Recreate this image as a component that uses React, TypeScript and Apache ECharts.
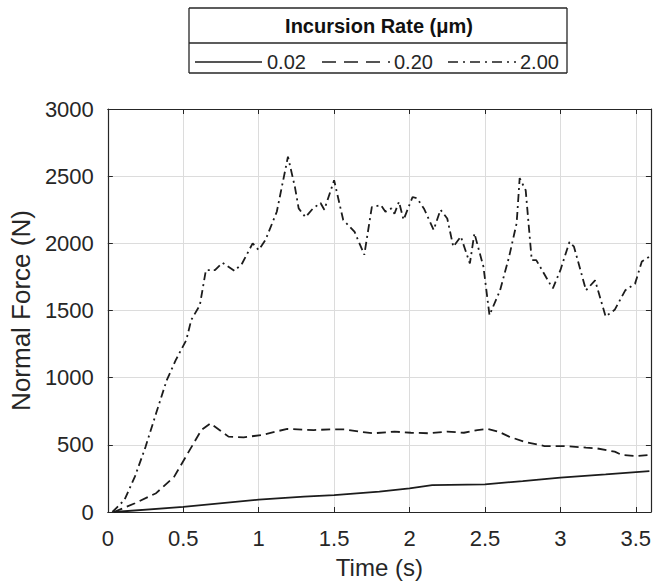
import React, { useEffect, useRef } from "react";
import * as echarts from "echarts";

// ---- data ----
const xTicks = [0, 0.5, 1, 1.5, 2, 2.5, 3, 3.5];
const yTicks = [0, 500, 1000, 1500, 2000, 2500, 3000];

const legendTitle = "Incursion Rate (μm)";
const seriesNames = ["0.02", "0.20", "2.00"];

const time002 = [0.04, 0.5, 1.0, 1.3, 1.5, 1.8, 2.0, 2.15, 2.5, 2.75, 3.0, 3.3, 3.59];
const force002 = [0, 38, 92, 115, 126, 152, 176, 200, 206, 230, 256, 280, 305];

const time020 = [0.04, 0.18, 0.32, 0.44, 0.53, 0.62, 0.68, 0.74, 0.8, 0.9, 1.02, 1.11, 1.19, 1.365, 1.48, 1.57, 1.67, 1.76, 1.9, 2.01, 2.13, 2.25, 2.36, 2.45, 2.52, 2.59, 2.66, 2.76, 2.895, 3.03, 3.17, 3.24, 3.36, 3.41, 3.5, 3.59];
const force020 = [0, 65, 140, 263, 437, 610, 660, 610, 561, 556, 573, 598, 618, 610, 615, 615, 598, 586, 598, 590, 586, 598, 590, 610, 618, 598, 561, 523, 491, 491, 479, 474, 449, 424, 417, 424];

const time200 = [0.03, 0.11, 0.18, 0.25, 0.32, 0.39, 0.45, 0.52, 0.553, 0.61, 0.65, 0.71, 0.76, 0.84, 0.89, 0.96, 1.0, 1.045, 1.12, 1.194, 1.24, 1.265, 1.31, 1.36, 1.41, 1.435, 1.5, 1.56, 1.636, 1.7, 1.75, 1.81, 1.84, 1.88, 1.9, 1.93, 1.96, 2.02, 2.05, 2.095, 2.16, 2.205, 2.25, 2.29, 2.34, 2.4, 2.43, 2.49, 2.53, 2.6, 2.66, 2.71, 2.73, 2.77, 2.81, 2.84, 2.93, 2.95, 3.0, 3.06, 3.09, 3.17, 3.23, 3.3, 3.36, 3.43, 3.495, 3.54, 3.59];
const force200 = [0, 90, 265, 485, 735, 980, 1130, 1280, 1430, 1540, 1800, 1800, 1855, 1795, 1850, 2000, 1950, 2025, 2235, 2645, 2420, 2260, 2195, 2260, 2300, 2250, 2470, 2175, 2085, 1915, 2270, 2285, 2235, 2260, 2220, 2310, 2175, 2345, 2335, 2260, 2100, 2250, 2185, 1975, 2050, 1850, 2075, 1825, 1465, 1650, 1900, 2150, 2485, 2395, 1875, 1875, 1700, 1665, 1800, 2010, 1975, 1650, 1725, 1455, 1505, 1650, 1700, 1865, 1900];

const zip = (t: number[], f: number[]) => t.map((x, i) => [x, f[i]]);

const FONT = "'Liberation Sans', Arial, Helvetica, sans-serif";
const AX = "#262626";
const LINE = "#1c1c1c";

export default function App() {
  const ref = useRef<HTMLDivElement>(null);
  useEffect(() => {
    if (!ref.current) return;
    const chart = echarts.init(ref.current, null, { renderer: "svg" });

    const xCommon = {
      type: "value" as const,
      min: 0,
      max: 3.6,
      interval: 0.5,
      axisLine: { show: true, onZero: false, lineStyle: { color: AX, width: 1.2 } },
      axisTick: { show: true, inside: true, length: 5, lineStyle: { color: AX } },
      splitLine: { show: false },
    };
    const yCommon = {
      type: "value" as const,
      min: 0,
      max: 3000,
      interval: 500,
      axisLine: { show: true, onZero: false, lineStyle: { color: AX, width: 1.2 } },
      axisTick: { show: true, inside: true, length: 5, lineStyle: { color: AX } },
      splitLine: { show: false },
    };

    const legendLines = [
      { x1: 195, x2: 262, dash: null as number[] | null, tx: 267 },
      { x1: 322, x2: 390, dash: [14, 8], tx: 394 },
      { x1: 448, x2: 516, dash: [10, 5, 2, 5], tx: 520 },
    ];

    const L = 189, R = 567, T = 8, B = 73, S = 43;
    const border = (x1: number, y1: number, x2: number, y2: number) => ({
      type: "line",
      shape: { x1, y1, x2, y2 },
      style: { stroke: AX, lineWidth: 1.3 },
      z: 101,
    });

    const graphic: any[] = [
      {
        type: "rect",
        shape: { x: L, y: T, width: R - L, height: B - T },
        style: { fill: "#fff", lineWidth: 0 },
        z: 100,
      },
      border(L, T, R, T),
      border(L, B, R, B),
      border(L, T, L, B),
      border(R, T, R, B),
      border(L, S, R, S),
      {
        type: "text",
        x: 379,
        y: 26,
        style: {
          text: legendTitle,
          font: `bold 20px ${FONT}`,
          fill: "#111",
          textAlign: "center",
          textVerticalAlign: "middle",
        },
        z: 101,
      },
    ];
    legendLines.forEach((l, i) => {
      graphic.push({
        type: "line",
        shape: { x1: l.x1, y1: 62, x2: l.x2, y2: 62 },
        style: { stroke: LINE, lineWidth: 1.6, lineDash: l.dash || undefined },
        z: 101,
      });
      graphic.push({
        type: "text",
        x: l.tx,
        y: 62,
        style: {
          text: seriesNames[i],
          font: `20px ${FONT}`,
          fill: AX,
          textAlign: "left",
          textVerticalAlign: "middle",
        },
        z: 101,
      });
    });

    const lineSeries = (name: string, data: number[][], dash: any) => ({
      name,
      type: "line" as const,
      data,
      showSymbol: false,
      symbol: "none",
      lineStyle: { color: LINE, width: 1.8, type: dash },
      xAxisIndex: 0,
      yAxisIndex: 0,
      z: 5,
    });

    chart.setOption({
      animation: false,
      backgroundColor: "#fff",
      textStyle: { fontFamily: FONT },
      grid: { left: 104, right: 2, top: 109, bottom: 73, containLabel: false },
      xAxis: [
        {
          ...xCommon,
          position: "bottom",
          name: "Time (s)",
          nameLocation: "middle",
          nameGap: 43,
          nameTextStyle: { fontSize: 24, color: AX, fontFamily: FONT },
          axisLabel: {
            show: true,
            fontSize: 22,
            color: AX,
            fontFamily: FONT,
            margin: 15,
            showMaxLabel: false,
            formatter: (v: number) => (xTicks.some((t) => Math.abs(t - v) < 1e-6) ? String(v) : ""),
          },
          splitLine: { show: true, lineStyle: { color: "#dcdcdc", width: 1 } },
        },
        {
          ...xCommon,
          position: "top",
          axisLabel: { show: false },
        },
      ],
      yAxis: [
        {
          ...yCommon,
          position: "left",
          name: "Normal Force (N)",
          nameLocation: "middle",
          nameGap: 70,
          nameRotate: 90,
          nameTextStyle: { fontSize: 26, color: AX, fontFamily: FONT },
          axisLabel: {
            show: true,
            fontSize: 22,
            color: AX,
            fontFamily: FONT,
            margin: 14,
            formatter: (v: number) => (yTicks.includes(v) ? String(v) : ""),
          },
          splitLine: { show: true, lineStyle: { color: "#dcdcdc", width: 1 } },
        },
        {
          ...yCommon,
          position: "right",
          axisLabel: { show: false },
        },
      ],
      series: [
        lineSeries(seriesNames[0], zip(time002, force002), "solid"),
        lineSeries(seriesNames[1], zip(time020, force020), [9, 5]),
        lineSeries(seriesNames[2], zip(time200, force200), [8, 4, 2, 4]),
      ],
      graphic,
    });

    return () => chart.dispose();
  }, []);

  return (
    <div
      ref={ref}
      style={{ position: "absolute", left: 0, top: 0, width: 654, height: 585 }}
    />
  );
}
